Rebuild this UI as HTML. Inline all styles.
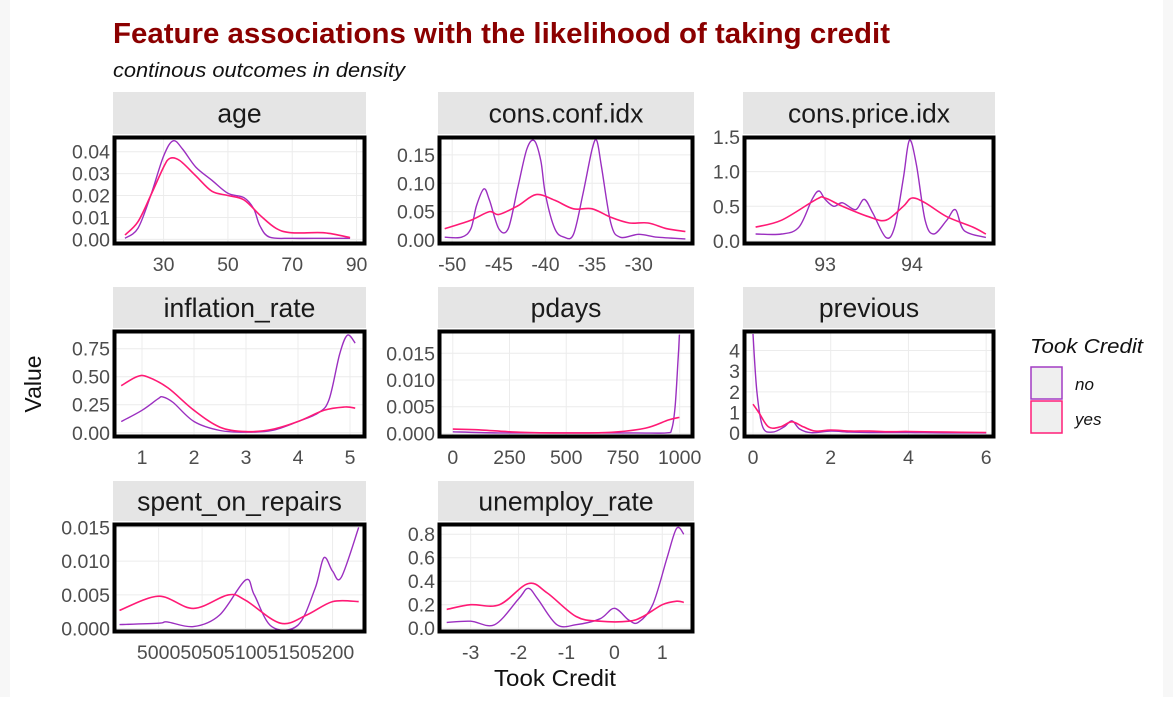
<!DOCTYPE html>
<html><head><meta charset="utf-8">
<style>
html,body{margin:0;padding:0;background:#fff;}
body{width:1173px;height:697px;overflow:hidden;font-family:"Liberation Sans",Arial,sans-serif;}
</style></head>
<body>
<svg id="chart" width="1173" height="697" xmlns="http://www.w3.org/2000/svg" font-family="Liberation Sans, Arial, sans-serif">
<rect x="0" y="0" width="1173" height="697" fill="#fff"/>
<rect x="0" y="0" width="10" height="697" fill="#f7f7f7"/>
<rect x="1163" y="0" width="10" height="697" fill="#f7f7f7"/>
<text x="113" y="43" font-size="28.5" font-weight="bold" fill="#8b0000" textLength="777" lengthAdjust="spacingAndGlyphs">Feature associations with the likelihood of taking credit</text>
<text x="113" y="77" font-size="20" font-style="italic" fill="#111" textLength="292" lengthAdjust="spacingAndGlyphs">continous outcomes in density</text>
<text x="0" y="0" font-size="23" fill="#111" text-anchor="middle" transform="translate(41,384) rotate(-90)">Value</text>
<text x="555" y="686" font-size="23" fill="#111" text-anchor="middle" textLength="122" lengthAdjust="spacingAndGlyphs">Took Credit</text>
<g>
<text x="1030" y="353" font-size="20" font-style="italic" fill="#111" textLength="113" lengthAdjust="spacingAndGlyphs">Took Credit</text>
<g>
<rect x="1031" y="367" width="31" height="32" fill="#efefef" stroke="#a23cc4" stroke-width="1.5"/>
<text x="1075" y="390" font-size="17" font-style="italic" fill="#111">no</text>
</g>
<g>
<rect x="1031" y="401" width="31" height="32" fill="#efefef" stroke="#ff1f78" stroke-width="1.5"/>
<text x="1075" y="425" font-size="17" font-style="italic" fill="#111">yes</text>
</g>
</g>
<g id="panels"></g>
</svg>
<script>
// ---- data arrays ----
const panelNames = ["age","cons.conf.idx","cons.price.idx","inflation_rate","pdays","previous","spent_on_repairs","unemploy_rate"];
const ageX   = [18,22,26,30,33,36,40,45,50,55,58,60,63,70,80,88];
const ageNo  = [0.0005,0.005,0.02,0.038,0.045,0.041,0.033,0.027,0.021,0.019,0.014,0.006,0.001,0.0005,0.0005,0.0005];
const ageYesX= [18,22,26,30,32,35,40,45,50,55,60,65,70,80,88];
const ageYes = [0.002,0.008,0.02,0.033,0.037,0.036,0.029,0.022,0.020,0.018,0.011,0.005,0.003,0.003,0.0008];
const ccX  = [-50.8,-49,-48,-47.4,-46.6,-46,-45,-44,-43,-42,-41.2,-40.5,-40,-39,-38,-37,-36,-35,-34.5,-34,-33,-32,-30,-28,-25];
const ccNo = [0.005,0.005,0.02,0.06,0.09,0.07,0.02,0.02,0.09,0.16,0.175,0.14,0.08,0.02,0.005,0.01,0.08,0.16,0.175,0.13,0.03,0.005,0.01,0.005,0.002];
const ccYesX=[-50.8,-48,-46,-45,-43,-41,-39,-37,-35,-33,-31,-29,-27,-25];
const ccYes =[0.02,0.035,0.05,0.045,0.06,0.08,0.07,0.055,0.055,0.04,0.03,0.03,0.02,0.015];
const cpX  = [92.2,92.5,92.7,92.85,92.93,93.0,93.1,93.2,93.35,93.45,93.55,93.7,93.8,93.9,93.97,94.05,94.15,94.25,94.4,94.5,94.6,94.85];
const cpNo = [0.1,0.1,0.2,0.6,0.72,0.6,0.5,0.55,0.45,0.6,0.4,0.05,0.2,0.9,1.45,1.1,0.3,0.1,0.3,0.45,0.15,0.05];
const cpYesX=[92.2,92.5,92.9,93.0,93.2,93.5,93.7,93.9,94.0,94.15,94.4,94.7,94.85];
const cpYes =[0.2,0.3,0.6,0.62,0.5,0.35,0.3,0.5,0.62,0.55,0.35,0.2,0.1];
const infX  = [0.6,1,1.3,1.4,1.6,2,2.5,3,3.5,4,4.4,4.6,4.8,4.95,5.1];
const infNo = [0.1,0.2,0.3,0.32,0.27,0.1,0.02,0.005,0.02,0.1,0.18,0.3,0.7,0.87,0.8];
const infYesX=[0.6,0.9,1.1,1.5,2,2.5,3,3.5,4,4.5,4.9,5.1];
const infYes =[0.42,0.5,0.5,0.4,0.2,0.05,0.01,0.03,0.1,0.2,0.23,0.22];
const pdX  = [0,200,500,800,940,965,980,992,999];
const pdNo = [0.0003,0.0001,0.0001,0.0001,0.0001,0.0008,0.005,0.013,0.0185];
const pdYesX=[0,100,300,500,700,850,950,999];
const pdYes =[0.0008,0.0007,0.0002,0.0001,0.0002,0.001,0.0025,0.003];
const prX  = [0,0.1,0.25,0.5,0.8,1,1.2,1.5,2,2.5,3,4,5,6];
const prNo = [4.8,2,0.3,0.05,0.3,0.6,0.2,0.02,0.1,0.05,0.03,0.03,0.01,0.01];
const prYesX=[0,0.15,0.4,0.7,1,1.3,1.6,2,2.5,3,3.5,4,5,6];
const prYes =[1.4,1.0,0.3,0.3,0.55,0.3,0.1,0.15,0.1,0.1,0.07,0.08,0.05,0.03];
const spX  = [4955,5000,5010,5040,5070,5100,5110,5130,5160,5180,5190,5200,5210,5230];
const spNo = [0.0006,0.0008,0.001,0.0003,0.002,0.0072,0.005,0.0003,0.0005,0.006,0.0105,0.0085,0.0076,0.015];
const spYesX=[4955,5000,5040,5080,5100,5140,5170,5200,5230];
const spYes =[0.0027,0.0048,0.003,0.005,0.0042,0.0008,0.002,0.004,0.004];
const unX  = [-3.5,-3,-2.5,-2,-1.8,-1.6,-1.2,-0.8,-0.3,0,0.3,0.5,0.8,1.1,1.3,1.45];
const unNo = [0.05,0.06,0.03,0.25,0.34,0.25,0.03,0.03,0.08,0.17,0.07,0.05,0.2,0.6,0.85,0.8];
const unYesX=[-3.5,-3,-2.4,-1.8,-1.4,-0.8,-0.3,0.3,0.6,1,1.3,1.45];
const unYes =[0.16,0.2,0.2,0.38,0.3,0.1,0.06,0.06,0.1,0.2,0.23,0.22];
// tick labels
const ageXT=[30,50,70,90], ageYT=["0.00","0.01","0.02","0.03","0.04"];
const ccXT=[-50,-45,-40,-35,-30], ccYT=["0.00","0.05","0.10","0.15"];
const cpXT=[93,94], cpYT=["0.0","0.5","1.0","1.5"];
const infXT=[1,2,3,4,5], infYT=["0.00","0.25","0.50","0.75"];
const pdXT=[0,250,500,750,1000], pdYT=["0.000","0.005","0.010","0.015"];
const prXT=[0,2,4,6], prYT=["0","1","2","3","4"];
const spXT=[5000,5050,5100,5150,5200], spYT=["0.000","0.005","0.010","0.015"];
const unXT=[-3,-2,-1,0,1], unYT=["0.0","0.2","0.4","0.6","0.8"];

const NS="http://www.w3.org/2000/svg";
const root=document.getElementById("panels");
function mk(tag,attrs,parent){const e=document.createElementNS(NS,tag);for(const k in attrs)e.setAttribute(k,attrs[k]);(parent||root).appendChild(e);return e;}
function smooth(pts){
  let d="M"+pts[0][0].toFixed(1)+","+pts[0][1].toFixed(1);
  for(let i=0;i<pts.length-1;i++){
    const p0=pts[i-1]||pts[i],p1=pts[i],p2=pts[i+1],p3=pts[i+2]||p2;
    const c1=[p1[0]+(p2[0]-p0[0])/6,p1[1]+(p2[1]-p0[1])/6];
    const c2=[p2[0]-(p3[0]-p1[0])/6,p2[1]-(p3[1]-p1[1])/6];
    d+="C"+c1[0].toFixed(1)+","+c1[1].toFixed(1)+" "+c2[0].toFixed(1)+","+c2[1].toFixed(1)+" "+p2[0].toFixed(1)+","+p2[1].toFixed(1);
  }
  return d;
}
const colX=[113,438,743], colW=[253,256,252];
const rowY=[{s:92,p:137,b:245},{s:287,p:331,b:438},{s:481,p:524,b:633}];
const specs=[
 {n:0,c:0,r:0,xd:[15.2,92],yd:[-0.0012,0.0458],xt:ageXT,yt:ageYT,nx:ageX,ny:ageNo,yx:ageYesX,yy:ageYes},
 {n:1,c:1,r:0,xd:[-51.2,-24.4],yd:[-0.0035,0.178],xt:ccXT,yt:ccYT,nx:ccX,ny:ccNo,yx:ccYesX,yy:ccYes},
 {n:2,c:2,r:0,xd:[92.09,94.92],yd:[-0.015,1.47],xt:cpXT,yt:cpYT,nx:cpX,ny:cpNo,yx:cpYesX,yy:cpYes},
 {n:3,c:0,r:1,xd:[0.5,5.25],yd:[-0.02,0.89],xt:infXT,yt:infYT,nx:infX,ny:infNo,yx:infYesX,yy:infYes},
 {n:4,c:1,r:1,xd:[-52,1050],yd:[-0.0003,0.0188],xt:pdXT,yt:pdYT,nx:pdX,ny:pdNo,yx:pdYesX,yy:pdYes},
 {n:5,c:2,r:1,xd:[-0.18,6.15],yd:[-0.09,4.85],xt:prXT,yt:prYT,nx:prX,ny:prNo,yx:prYesX,yy:prYes},
 {n:6,c:0,r:2,xd:[4951,5235],yd:[-0.0002,0.0152],xt:spXT,yt:spYT,nx:spX,ny:spNo,yx:spYesX,yy:spYes},
 {n:7,c:1,r:2,xd:[-3.62,1.6],yd:[-0.015,0.87],xt:unXT,yt:unYT,nx:unX,ny:unNo,yx:unYesX,yy:unYes}
];
specs.forEach((s,idx)=>{
  const x0=colX[s.c], w=colW[s.c], R=rowY[s.r];
  const g=mk("g",{});
  
  
  const strip=mk("rect",{x:x0,y:R.s,width:w,height:R.p-R.s-3,fill:"#e5e5e5"},g);
  
  
  const st=mk("text",{x:x0+w/2,y:R.s+(R.p-R.s)/2+8,"font-size":26.5,fill:"#1a1a1a","text-anchor":"middle"},g);
  st.textContent=panelNames[s.n];
  
  
  const L=x0+3,Rr=x0+w-3,T=R.p+2,B=R.b-3;
  const sx=v=>L+(v-s.xd[0])/(s.xd[1]-s.xd[0])*(Rr-L);
  const sy=v=>B-(v-s.yd[0])/(s.yd[1]-s.yd[0])*(B-T);
  const cid="clip"+idx;
  const cp=mk("clipPath",{id:cid},g); mk("rect",{x:L,y:T,width:Rr-L,height:B-T},cp);
  s.xt.forEach((t,i)=>{
    const X=sx(t);
    mk("line",{x1:X,x2:X,y1:T,y2:B,stroke:"#ececec","stroke-width":1},g);
    const tl=mk("text",{x:X,y:R.b+26,"font-size":19.5,fill:"#4d4d4d","text-anchor":"middle"},g);
    tl.textContent=t;
    
    
  });
  s.yt.forEach((t,i)=>{
    const Y=sy(parseFloat(t));
    mk("line",{x1:L,x2:Rr,y1:Y,y2:Y,stroke:"#ececec","stroke-width":1},g);
    const tl=mk("text",{x:x0-3,y:Y+7,"font-size":19.5,fill:"#4d4d4d","text-anchor":"end"},g);
    tl.textContent=t;
    
    
  });
  const cg=mk("g",{"clip-path":"url(#"+cid+")"},g);
  const pn=mk("path",{d:smooth(s.nx.map((v,i)=>[sx(v),sy(s.ny[i])])),fill:"none",stroke:"#9b2fc0","stroke-width":1.4},cg);
  
  
  const py=mk("path",{d:smooth(s.yx.map((v,i)=>[sx(v),sy(s.yy[i])])),fill:"none",stroke:"#ff1a75","stroke-width":1.6},cg);
  
  
  const bx=mk("rect",{x:x0+1.5,y:R.p+0.5,width:w-3,height:R.b-R.p-2,fill:"none",stroke:"#000","stroke-width":4},g);
  
  
});
</script>
</body></html>
